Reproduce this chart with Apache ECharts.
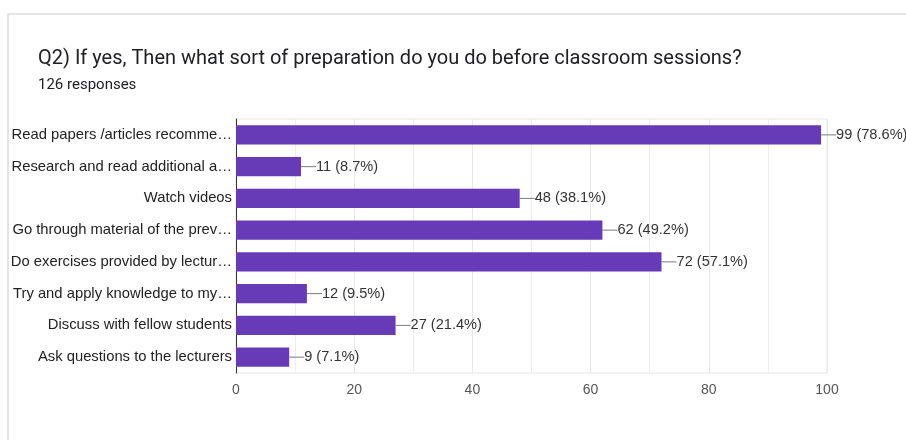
<!DOCTYPE html>
<html>
<head>
<meta charset="utf-8">
<script src="https://cdn.jsdelivr.net/npm/echarts@6/dist/echarts.min.js"></script>
<style>
  html, body { margin: 0; padding: 0; background: #fff; }
  #chart { width: 906px; height: 440px; }
</style>
</head>
<body>
<div id="chart"></div>
<script>
// Survey answers, listed top to bottom as shown
const categories = [
  'Read papers /articles recomme…',
  'Research and read additional a…',
  'Watch videos',
  'Go through material of the prev…',
  'Do exercises provided by lectur…',
  'Try and apply knowledge to my…',
  'Discuss with fellow students',
  'Ask questions to the lecturers'
];
const counts = [99, 11, 48, 62, 72, 12, 27, 9];
const percents = ['78.6%', '8.7%', '38.1%', '49.2%', '57.1%', '9.5%', '21.4%', '7.1%'];
const totalResponses = 126;
const xTicks = [0, 20, 40, 60, 80, 100];

const chart = echarts.init(document.getElementById('chart'));

const option = {
  animation: false,
  graphic: [
    {
      type: 'rect',
      shape: { x: 8, y: 14, width: 1000, height: 1000 },
      style: { fill: '#fff', stroke: '#dadce0', lineWidth: 1.5 },
      z: -10
    },
    {
      type: 'text',
      left: 38, top: 49,
      style: {
        text: 'Q2) If yes, Then what sort of preparation do you do before classroom sessions?',
        font: '20px Roboto', fill: '#202124'
      }
    },
    {
      type: 'text',
      left: 38, top: 78,
      style: {
        text: totalResponses + ' responses',
        font: '15px Roboto', fill: '#202124'
      }
    }
  ],
  grid: {
    left: 236, right: 79, top: 119, bottom: 67, containLabel: false,
    show: true, borderColor: '#e6e6e6', borderWidth: 1
  },
  xAxis: {
    type: 'value',
    min: xTicks[0],
    max: xTicks[xTicks.length - 1],
    interval: 20,
    axisLine: { show: false },
    axisTick: { show: false },
    axisLabel: { color: '#555', fontFamily: 'Liberation Sans', fontSize: 14, margin: 10 },
    splitLine: { show: true, lineStyle: { color: '#e8e8e8', width: 1 } },
    minorTick: { show: false, splitNumber: 2 },
    minorSplitLine: { show: true, lineStyle: { color: '#ededed', width: 1 } }
  },
  yAxis: {
    type: 'category',
    data: categories,
    inverse: true,
    axisLine: { show: true, lineStyle: { color: '#333', width: 1 } },
    axisTick: { show: false },
    axisLabel: { color: '#222', fontFamily: 'Liberation Sans', fontSize: 14.8, margin: 4 },
    splitLine: { show: false }
  },
  series: [
    {
      type: 'bar',
      data: counts,
      barCategoryGap: '40%',
      itemStyle: { color: '#673ab7' },
      label: {
        show: true,
        position: 'right',
        distance: 0,
        formatter: (p) => '{ln|}{v|' + p.value + ' (' + percents[p.dataIndex] + ')}',
        rich: {
          ln: { width: 15, height: 1, backgroundColor: '#7a7a7a', verticalAlign: 'middle' },
          v: { color: '#333', fontFamily: 'Liberation Sans', fontSize: 14.6, padding: [0, 0, 0, 0] }
        }
      }
    }
  ]
};

chart.setOption(option);
</script>
</body>
</html>
